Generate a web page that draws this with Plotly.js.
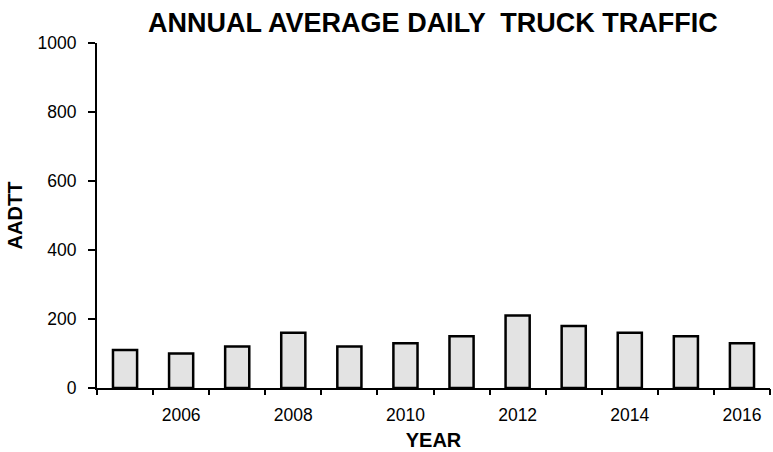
<!DOCTYPE html>
<html>
<head>
<meta charset="utf-8">
<script src="https://cdn.plot.ly/plotly-3.0.1.min.js"></script>
<style>html,body{margin:0;padding:0;background:#fff;}#chart{width:773px;height:452px;}</style>
</head>
<body>
<div id="chart"></div>
<script>
var years = [2005, 2006, 2007, 2008, 2009, 2010, 2011, 2012, 2013, 2014, 2015, 2016];
var aadtt = [110, 100, 120, 160, 120, 130, 150, 210, 180, 160, 150, 130];
var labelYears = [2006, 2008, 2010, 2012, 2014, 2016];
var yTicks = [0, 200, 400, 600, 800, 1000];

var tickBetween = years.map(function (y) { return y - 0.5; }).concat([years[years.length - 1] + 0.5]);

var font = "Liberation Sans, Arial, sans-serif";

var data = [{
  type: "bar",
  x: years,
  y: aadtt,
  width: 0.43,
  marker: { color: "#e3e3e3", line: { color: "#000", width: 2.5 } },
  hoverinfo: "x+y"
}, {
  type: "scatter",
  x: [years[0]],
  y: [0],
  xaxis: "x2",
  mode: "markers",
  marker: { opacity: 0 },
  showlegend: false,
  hoverinfo: "skip"
}];

var layout = {
  width: 773,
  height: 452,
  margin: { l: 97, r: 3, t: 43, b: 64 },
  paper_bgcolor: "#fff",
  plot_bgcolor: "#fff",
  showlegend: false,
  title: {
    text: "<b>ANNUAL AVERAGE DAILY  TRUCK TRAFFIC</b>",
    font: { family: font, size: 27, color: "#000" },
    x: 0.56, xanchor: "center", y: 0.95, yanchor: "middle"
  },
  xaxis: {
    range: [2004.5, 2016.5],
    tickmode: "array",
    tickvals: labelYears,
    ticktext: labelYears.map(String),
    ticks: "",
    ticklabelstandoff: 10,
    showgrid: false,
    zeroline: false,
    showline: true,
    linecolor: "#000",
    linewidth: 2,
    tickfont: { family: font, size: 17.5, color: "#000" },
    title: { text: "<b>YEAR</b>", font: { family: font, size: 20, color: "#000" }, standoff: 9 }
  },
  xaxis2: {
    range: [2004.5, 2016.5],
    overlaying: "x",
    side: "bottom",
    anchor: "y",
    tickmode: "array",
    tickvals: tickBetween,
    showticklabels: false,
    ticks: "outside",
    ticklen: 6,
    tickwidth: 2,
    tickcolor: "#000",
    showgrid: false,
    zeroline: false,
    showline: false
  },
  yaxis: {
    range: [0, 1000],
    tickmode: "array",
    tickvals: yTicks,
    ticks: "outside",
    ticklen: 7,
    tickwidth: 2,
    tickcolor: "#000",
    ticklabelstandoff: 8,
    showgrid: false,
    zeroline: false,
    showline: true,
    linecolor: "#000",
    linewidth: 2,
    tickfont: { family: font, size: 17.5, color: "#000" },
    title: { text: "<b>AADTT</b>", font: { family: font, size: 20, color: "#000" }, standoff: 10 }
  }
};

Plotly.newPlot("chart", data, layout, { displayModeBar: false, staticPlot: true });
</script>
</body>
</html>
